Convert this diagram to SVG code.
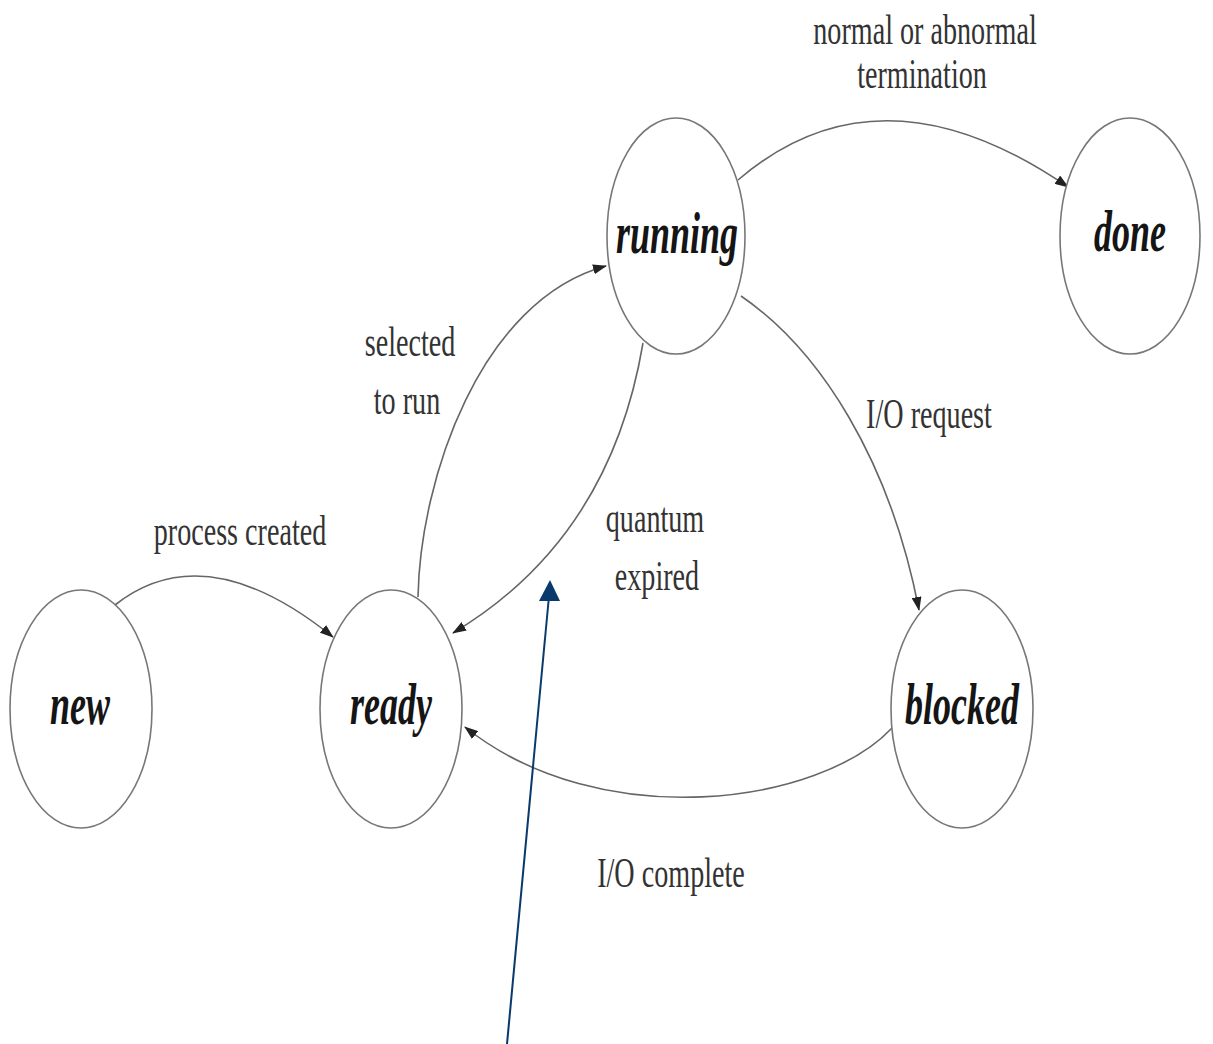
<svg xmlns="http://www.w3.org/2000/svg" width="1213" height="1044" viewBox="0 0 1213 1044">
<style>
.node{fill:#fff;stroke:#777;stroke-width:1.6}
.nl{font-family:"Liberation Serif",serif;font-weight:bold;font-style:italic;font-size:60px;fill:#151515;text-anchor:middle}
.el{font-family:"Liberation Serif",serif;font-size:42px;fill:#333;text-anchor:middle}
.edge{fill:none;stroke:#666;stroke-width:1.6}
.blue{fill:none;stroke:#0a3a6c;stroke-width:2}
</style>
<defs>
<marker id="ah" viewBox="0 0 14 10" refX="13" refY="5" markerWidth="14" markerHeight="10" markerUnits="userSpaceOnUse" orient="auto">
<path d="M0,0 L14,5 L0,10 Z" fill="#222"/>
</marker>
</defs>
<rect width="1213" height="1044" fill="#fff"/>
<g id="connectors">
<path class="edge" d="M115,605 Q205,534 333,637" marker-end="url(#ah)"/>
<path class="edge" d="M418,597 C420,480 480,300 606,266" marker-end="url(#ah)"/>
<path class="edge" d="M643,343 C625,450 575,560 453,633" marker-end="url(#ah)"/>
<path class="edge" d="M741,296 C820,350 890,460 919,610" marker-end="url(#ah)"/>
<path class="edge" d="M892,728 C820,805 600,835 465,727" marker-end="url(#ah)"/>
<path class="edge" d="M738,180 Q880,58 1068,187" marker-end="url(#ah)"/>
<line class="blue" x1="507" y1="1044" x2="549" y2="596"/>
<polygon points="550,580 539,601 560,601" fill="#0a3a6c"/>
</g>
<g id="labels">
<text class="el" transform="translate(925,44) scale(0.67,1)">normal or abnormal</text>
<text class="el" transform="translate(922,88) scale(0.67,1)">termination</text>
<text class="el" transform="translate(410,356) scale(0.67,1)">selected</text>
<text class="el" transform="translate(407,414) scale(0.67,1)">to run</text>
<text class="el" transform="translate(240,545) scale(0.67,1)">process created</text>
<text class="el" transform="translate(655,532) scale(0.67,1)">quantum</text>
<text class="el" transform="translate(657,590) scale(0.67,1)">expired</text>
<text class="el" transform="translate(929,428) scale(0.67,1)">I/O request</text>
<text class="el" transform="translate(671,887) scale(0.67,1)">I/O complete</text>
</g>
<g id="new"><ellipse class="node" cx="81" cy="709" rx="71" ry="119"/><text class="nl" transform="translate(80,724) scale(0.6,1)">new</text></g>
<g id="ready"><ellipse class="node" cx="391" cy="709" rx="71" ry="119"/><text class="nl" transform="translate(391,724) scale(0.6,1)">ready</text></g>
<g id="running"><ellipse class="node" cx="676" cy="236" rx="69" ry="118"/><text class="nl" transform="translate(677,253) scale(0.6,1)">running</text></g>
<g id="done"><ellipse class="node" cx="1130" cy="236" rx="70" ry="118"/><text class="nl" transform="translate(1130,251) scale(0.6,1)">done</text></g>
<g id="blocked"><ellipse class="node" cx="962" cy="709" rx="71" ry="119"/><text class="nl" transform="translate(962,724) scale(0.6,1)">blocked</text></g>
</svg>
